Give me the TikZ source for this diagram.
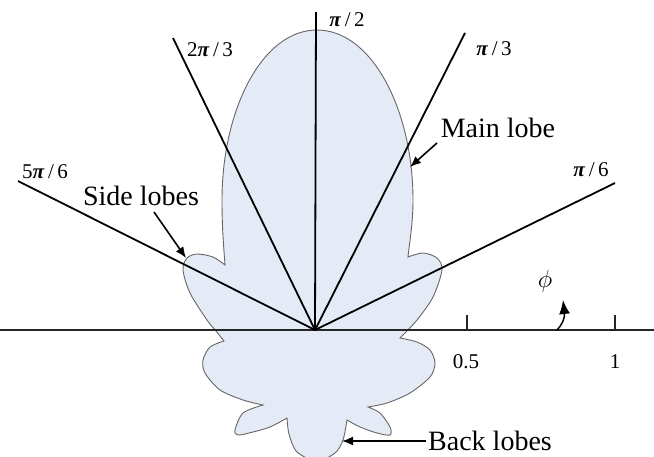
\documentclass[tikz,border=0pt]{standalone}
\usepackage{fontspec}
\setmainfont{Liberation Serif}
\usetikzlibrary{arrows.meta}
\definecolor{lobefill}{RGB}{228,235,246}
\newcommand{\pib}{\textbf{\textit{π}}}
\begin{document}
\begin{tikzpicture}[x=1pt,y=-1pt,
 ray/.style={line width=1.8pt, black},
 axisline/.style={line width=1.5pt, black!85},
 tick/.style={line width=1.3pt, black!85},
 lobe/.style={draw=black!60, line width=0.9pt, fill=lobefill},
 arr/.style={line width=1.6pt, -{Latex[length=11pt,width=9pt]}},
 arrsmall/.style={line width=1.5pt, -{Latex[length=14pt,width=11pt]}},
 big/.style={font=\fontsize{28}{30}\selectfont, inner sep=0pt},
 small/.style={font=\fontsize{21}{23}\selectfont, inner sep=0pt}]
\useasboundingbox (0,0) rectangle (654,456);

% radiation pattern
\path[lobe] (225,265) .. controls (224,250) and (222,230) .. (222,200)
 .. controls (222,110) and (262,30) .. (317,30)
 .. controls (372,30) and (413,110) .. (413,200)
 .. controls (413,225) and (409,245) .. (408,257)
 -- plot[smooth] coordinates {(408,257) (423,253) (437,258) (442,270) (433,297) (417,320) (400,338)}
 -- plot[smooth] coordinates {(400,338) (417,342) (430,350) (435,363) (430,377) (410,393) (387,403) (368,407)}
 -- plot[smooth] coordinates {(368,407) (380,413) (390,427) (390,435) (377,433) (360,427) (347,420)}
 -- plot[smooth] coordinates {(347,420) (343,440) (335,453) (317,461) (297,452) (289,434) (287,418)}
 -- plot[smooth] coordinates {(287,418) (270,427) (253,432) (238,435) (235,430) (243,413) (263,405)}
 -- plot[smooth] coordinates {(263,405) (243,400) (220,390) (205,373) (203,360) (210,347) (224,341)}
 -- plot[smooth] coordinates {(224,341) (216,331) (207,320) (190,293) (183,270) (187,258) (197,254) (213,257) (225,265)}
 -- cycle;

% axis and origin
\coordinate (O) at (315,330);
\coordinate (axL) at (0,330);
\coordinate (axR) at (654,330);
\draw[axisline] (axL) -- (axR);
\coordinate (t1) at (467,330); \coordinate (t1e) at (467,315);
\coordinate (t2) at (615,330); \coordinate (t2e) at (615,315);
\draw[tick] (t1) -- (t1e);
\draw[tick] (t2) -- (t2e);

% rays
\coordinate (r90) at (316,12);
\coordinate (r60) at (465,33);
\coordinate (r120) at (173,38);
\coordinate (r150) at (18,181);
\coordinate (r30) at (615,183);
\draw[ray] (O) -- (r90);
\draw[ray] (O) -- (r60);
\draw[ray] (O) -- (r120);
\draw[ray] (O) -- (r150);
\draw[ray] (O) -- (r30);

% angle labels
\node[small] (l90) at (347,20) {\pib\,/\,2};
\node[small] (l120) at (210,50) {2\pib\,/\,3};
\node[small] (l60) at (494,49) {\pib\,/\,3};
\node[small] (l150) at (45,172) {5\pib\,/\,6};
\node[small] (l30) at (591,170) {\pib\,/\,6};

% scale labels
\node[small] (s05) at (466,362) {0.5};
\node[small] (s1) at (615,362) {1};

% annotations
\node[big, anchor=base] (side) at (141,205) {Side lobes};
\node[big, anchor=base] (main) at (498,137) {Main lobe};
\node[big, anchor=base west] (back) at (428,450) {Back lobes};
\node[font=\fontsize{30}{32}\selectfont, inner sep=0pt] (phi) at (545,281) {$\phi$};

\coordinate (sideS) at (154,212);
\coordinate (sideT) at (186,258);
\draw[arr] (sideS) -- (sideT);
\coordinate (mainS) at (437,143);
\coordinate (mainT) at (410,167);
\draw[arr] (mainS) -- (mainT);
\coordinate (backS) at (426,441);
\coordinate (backT) at (342,441);
\draw[arr] (backS) -- (backT);
\coordinate (phiS) at (557,330);
\coordinate (phiT) at (563,300);
\draw[arrsmall] (phiS) .. controls (562,325) and (565,318) .. (phiT);
\end{tikzpicture}
\end{document}
